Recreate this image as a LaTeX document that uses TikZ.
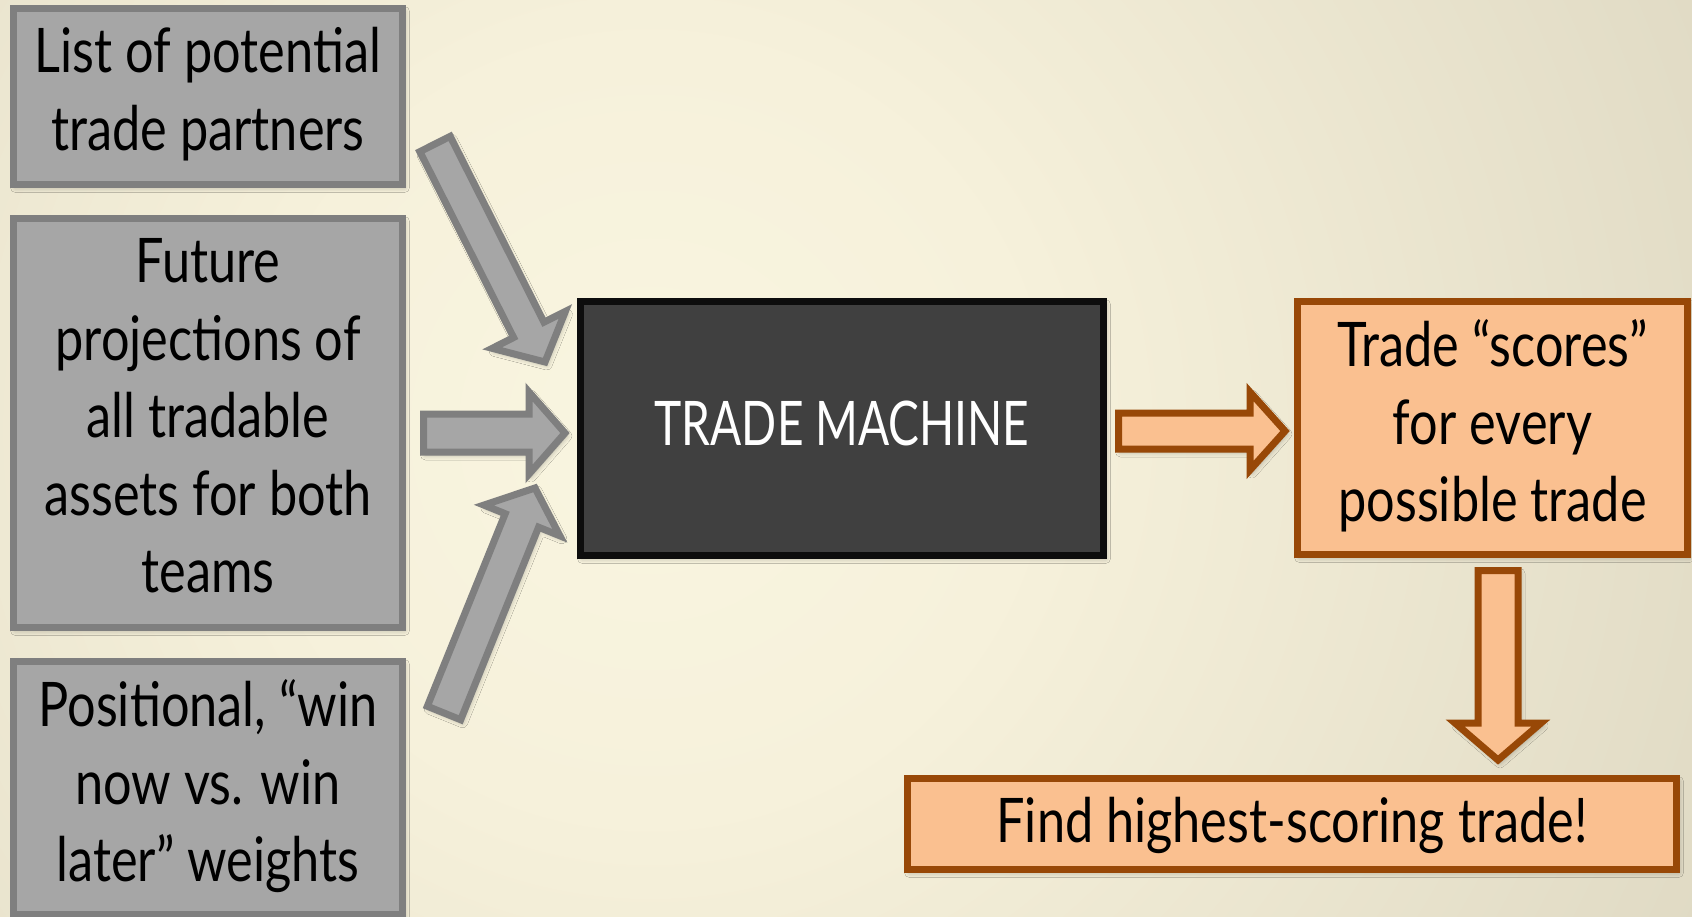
\documentclass[tikz,border=0pt]{standalone}
\usepackage{fontspec}
\newfontfamily\labelfont[FakeStretch=0.82]{Lato}
\newfontfamily\capsfont[FakeStretch=0.75]{Lato}
\usetikzlibrary{calc,shadows.blur}

% palette
\definecolor{boxgray}{HTML}{A6A6A6}
\definecolor{edgegray}{HTML}{7F7F7F}
\definecolor{machinefill}{HTML}{404040}
\definecolor{machineedge}{HTML}{0D0D0D}
\definecolor{peach}{HTML}{FAC090}
\definecolor{rust}{HTML}{984807}
\definecolor{bgA}{HTML}{F9F5E0}
\definecolor{bgB}{HTML}{F6F1DB}
\definecolor{bgC}{HTML}{DCD6C0}
\definecolor{bgD}{HTML}{D2CCB7}
\definecolor{bgE}{HTML}{AFAC9C}

% soft backdrop, 100bp square mapped onto the backdrop rectangle
\pgfdeclareradialshading{backdrop}{\pgfpoint{0bp}{0bp}}{%
  color(0bp)=(bgA); color(8bp)=(bgB); color(27bp)=(bgC);
  color(33bp)=(bgD); color(48bp)=(bgE); color(50bp)=(bgE)}

% block arrow: #1 style, #2 tail, #3 tip, #4 half shaft width, #5 half head width, #6 head length
\newcommand\blockarrow[6]{%
  \coordinate (hb) at ($(#3)!#6!(#2)$);
  \draw[#1] ($(#2)!#4!90:(#3)$) -- ($(hb)!#4!90:(#3)$) -- ($(hb)!#5!90:(#3)$)
    -- (#3) -- ($(hb)!#5!-90:(#3)$) -- ($(hb)!#4!-90:(#3)$)
    -- ($(#2)!#4!-90:(#3)$) -- cycle;
}

% struts that frame the first and last line of a label
\newcommand\topstrut{\rule{0pt}{68pt}}
\newcommand\capstrut{\rule{0pt}{48pt}}
\newcommand\bannerstrut{\rule{0pt}{51pt}}
\newcommand\botstrut{\rule[-15pt]{0pt}{0pt}}

\tikzset{
  soft/.style={blur shadow={shadow xshift=2pt, shadow yshift=-3pt,
    shadow blur radius=5pt, shadow opacity=30}},
  textbox/.style={line width=7pt, inner sep=0pt, align=center, soft,
    font=\labelfont\fontsize{61.5}{77.5}\selectfont,
    execute at end node=\botstrut},
  inputbox/.style={textbox, draw=edgegray, fill=boxgray, text=black,
    execute at begin node=\topstrut},
  machinebox/.style={textbox, draw=machineedge, fill=machinefill, text=white,
    font=\capsfont\fontsize{61.5}{77.5}\selectfont,
    execute at begin node=\capstrut},
  outputbox/.style={textbox, draw=rust, fill=peach, text=black,
    execute at begin node=\topstrut},
  bannerbox/.style={textbox, draw=rust, fill=peach, text=black,
    execute at begin node=\bannerstrut},
  grayarrow/.style={draw=edgegray, fill=boxgray, line width=7pt, soft},
  rustarrow/.style={draw=rust, fill=peach, line width=7pt, soft},
}

\begin{document}
\begin{tikzpicture}[x=1pt, y=-1pt]
  \useasboundingbox (0,0) rectangle (1692,916);
  \shade[shading=backdrop] (-550,-770) rectangle (1850,1630);

  % inputs
  \node[inputbox, minimum width=389pt, minimum height=176pt] (partners) at (208,96.5)
    {List of potential\\trade partners};
  \node[inputbox, minimum width=389pt, minimum height=409pt] (projections) at (208,423)
    {Future\\projections of\\all tradable\\assets for both\\teams};
  \node[inputbox, minimum width=389pt, minimum height=253pt] (weights) at (208,788)
    {Positional, “win\\now vs. win\\later” weights};

  % engine
  \node[machinebox, minimum width=523pt, minimum height=254pt] (machine) at (842,428.5)
    {TRADE MACHINE};

  % outputs
  \node[outputbox, minimum width=390pt, minimum height=253pt] (scores) at (1492.5,428)
    {Trade “scores”\\for every\\possible trade};
  \node[bannerbox, minimum width=769pt, minimum height=91pt] (best) at (1292,824)
    {Find highest-scoring trade!};

  % arrow ends
  \coordinate (a1tail) at (435,144);   \coordinate (a1tip) at (545,362);
  \coordinate (a2tail) at (423.5,433); \coordinate (a2tip) at (565,433);
  \coordinate (a3tail) at (444,713);   \coordinate (a3tip) at (535,488);
  \coordinate (a4tail) at (1118.5,431);\coordinate (a4tip) at (1285,431);
  \coordinate (a5tail) at (1498,570.5);\coordinate (a5tip) at (1498,760);

  \blockarrow{grayarrow}{a1tail}{a1tip}{17pt}{41pt}{36pt}
  \blockarrow{grayarrow}{a2tail}{a2tip}{19pt}{41pt}{36pt}
  \blockarrow{grayarrow}{a3tail}{a3tip}{18pt}{41pt}{35pt}
  \blockarrow{rustarrow}{a4tail}{a4tip}{18pt}{39pt}{35pt}
  \blockarrow{rustarrow}{a5tail}{a5tip}{20pt}{43pt}{37pt}
\end{tikzpicture}
\end{document}
